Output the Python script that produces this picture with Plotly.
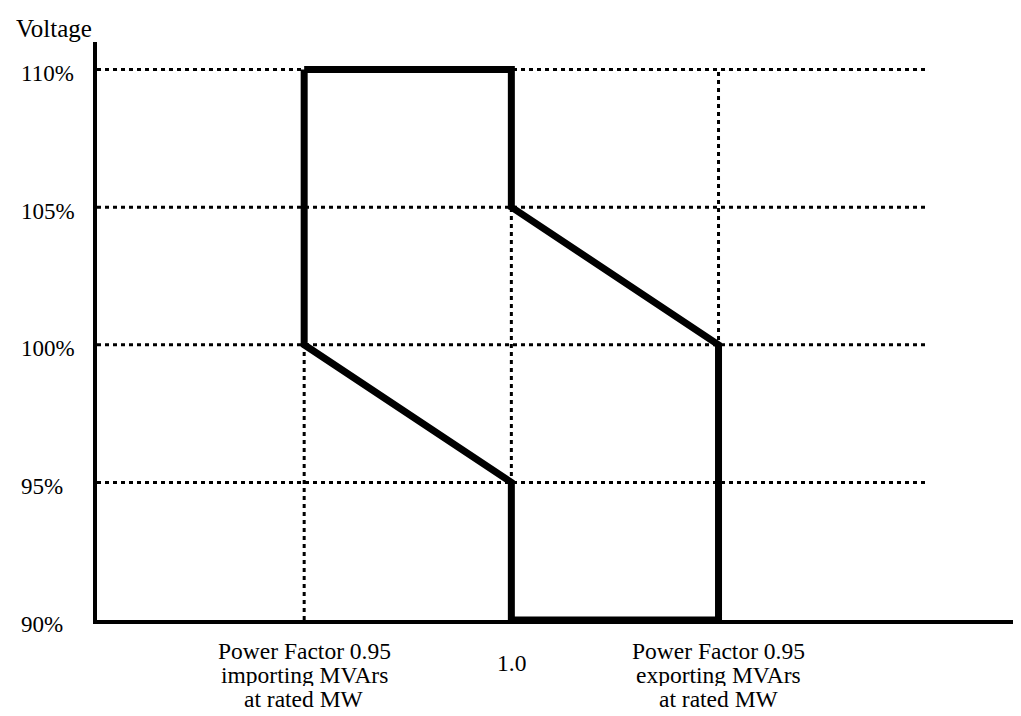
import plotly.graph_objects as go

# ---- data ----
pf_positions = [-1, 0, 1]
pf_labels = [
    ["Power Factor 0.95", "importing MVArs", "at rated MW"],
    ["1.0"],
    ["Power Factor 0.95", "exporting MVArs", "at rated MW"],
]
voltage_ticks = [90, 95, 100, 105, 110]
voltage_labels = ["90%", "95%", "100%", "105%", "110%"]
grid_voltages = [95, 100, 105, 110]
grid_x_extent = [-2, 2]
vgrid_y_extent = [90, 110]
region_x = [-1, 0, 0, 1, 1, 0, 0, -1, -1]
region_y = [110, 110, 105, 100, 90, 90, 95, 100, 110]

FONT = "Liberation Serif, Times New Roman, serif"

fig = go.Figure()

# horizontal dotted grid
for v in grid_voltages:
    fig.add_trace(go.Scatter(
        x=grid_x_extent, y=[v, v], mode="lines",
        line=dict(color="black", width=3, dash="4px,4px"),
        hoverinfo="skip", showlegend=False, cliponaxis=False))
# vertical dotted grid
for p in pf_positions:
    fig.add_trace(go.Scatter(
        x=[p, p], y=vgrid_y_extent, mode="lines",
        line=dict(color="black", width=3, dash="4px,4px"),
        hoverinfo="skip", showlegend=False, cliponaxis=False))

# operating region
fig.add_trace(go.Scatter(
    x=region_x, y=region_y, mode="lines",
    line=dict(color="black", width=7),
    hoverinfo="skip", showlegend=False, cliponaxis=False))

annotations = []
for v, lab in zip(voltage_ticks, voltage_labels):
    annotations.append(dict(
        x=0, xref="paper", xanchor="left", xshift=-78,
        y=v, yref="y", yanchor="middle", yshift=-4,
        text=lab, showarrow=False,
        font=dict(family=FONT, size=23, color="black")))

annotations.append(dict(
    x=0, xref="paper", xanchor="right", xshift=-3,
    y=1, yref="paper", yanchor="middle", yshift=14,
    text="Voltage", showarrow=False,
    font=dict(family=FONT, size=25, color="black")))

for p, lines in zip(pf_positions, pf_labels):
    if len(lines) == 1:
        offsets = [-43]
    else:
        offsets = [-31, -55, -79]
    for line, off in zip(lines, offsets):
        annotations.append(dict(
            x=p, xref="x", xanchor="center",
            y=0, yref="paper", yanchor="middle", yshift=off,
            text=line, showarrow=False, height=22, valign="middle",
            font=dict(family=FONT, size=23.5, color="black")))

# page body has an 8px margin, so the figure is sized to fit inside it
fig.update_layout(
    width=1013, height=708,
    margin=dict(l=89, r=0, t=34, b=96),
    paper_bgcolor="white", plot_bgcolor="white",
    annotations=annotations,
    xaxis=dict(range=[-2, 2.46], showgrid=False, zeroline=False,
               showticklabels=False, ticks="",
               showline=True, linecolor="black", linewidth=3.5),
    yaxis=dict(range=[90, 111], showgrid=False, zeroline=False,
               showticklabels=False, ticks="",
               showline=True, linecolor="black", linewidth=3.5),
)

fig.write_html("out.html")
